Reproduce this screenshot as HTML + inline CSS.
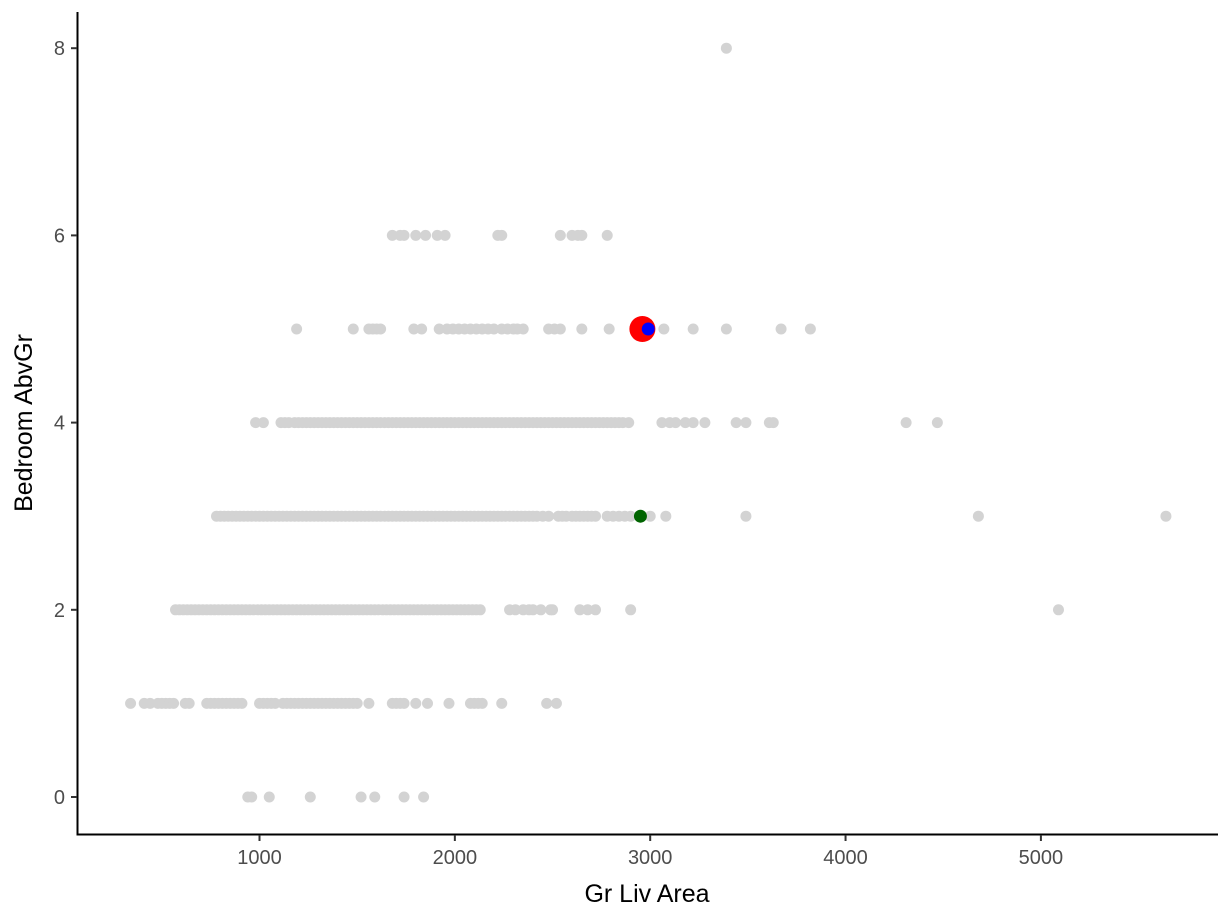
<!DOCTYPE html>
<html><head><meta charset="utf-8"><style>
body{margin:0;background:#fff}
svg{display:block}
text{font-family:"Liberation Sans",sans-serif}
</style></head><body>
<svg id="chart" width="1228" height="921"></svg>
<script>
const xTicks=[1000,2000,3000,4000,5000];
const yTicks=[0,2,4,6,8];
const row0=[940,960,1050,1260,1520,1590,1740,1840];
const row1=[340,410,440,480,500,520,540,560,620,640,730,750,770,790,810,830,850,870,890,910,1000,1020,1040,1060,1080,1120,1140,1160,1180,1200,1220,1240,1260,1280,1300,1320,1340,1360,1380,1400,1420,1440,1460,1480,1500,1560,1680,1700,1720,1740,1800,1860,1970,2080,2100,2120,2140,2240,2470,2520];
const row2=[570,590,610,630,650,670,690,710,730,750,770,790,810,830,850,870,890,910,930,950,970,990,1010,1030,1050,1070,1090,1110,1130,1150,1170,1190,1210,1230,1250,1270,1290,1310,1330,1350,1370,1390,1410,1430,1450,1470,1490,1510,1530,1550,1570,1590,1610,1630,1650,1670,1690,1710,1730,1750,1770,1790,1810,1830,1850,1870,1890,1910,1930,1950,1970,1990,2010,2030,2050,2070,2090,2110,2130,2280,2310,2350,2380,2400,2440,2490,2500,2640,2680,2720,2900,5090];
const row3=[780,800,820,840,860,880,900,920,940,960,980,1000,1020,1040,1060,1080,1100,1120,1140,1160,1180,1200,1220,1240,1260,1280,1300,1320,1340,1360,1380,1400,1420,1440,1460,1480,1500,1520,1540,1560,1580,1600,1620,1640,1660,1680,1700,1720,1740,1760,1780,1800,1820,1840,1860,1880,1900,1920,1940,1960,1980,2000,2020,2040,2060,2080,2100,2120,2140,2160,2180,2200,2220,2240,2260,2280,2300,2320,2340,2360,2380,2400,2420,2450,2480,2530,2550,2570,2600,2620,2640,2660,2680,2700,2720,2780,2810,2840,2870,2900,3000,3080,3490,4680,5640];
const row4=[980,1020,1110,1130,1150,1180,1200,1220,1240,1260,1280,1300,1320,1340,1360,1380,1400,1420,1440,1460,1480,1500,1520,1540,1560,1580,1600,1620,1640,1660,1680,1700,1720,1740,1760,1780,1800,1820,1840,1860,1880,1900,1920,1940,1960,1980,2000,2020,2040,2060,2080,2100,2120,2140,2160,2180,2200,2220,2240,2260,2280,2300,2320,2340,2360,2380,2400,2420,2440,2460,2480,2500,2520,2540,2560,2580,2600,2620,2640,2660,2680,2700,2720,2740,2760,2780,2800,2820,2840,2860,2890,3060,3100,3130,3180,3220,3280,3440,3490,3610,3630,4310,4470];
const row5=[1190,1480,1560,1580,1600,1620,1790,1830,1920,1960,1990,2020,2050,2080,2110,2140,2170,2200,2240,2270,2300,2320,2350,2480,2510,2540,2650,2790,3070,3220,3390,3670,3820];
const row6=[1680,1720,1740,1800,1850,1910,1950,2220,2240,2540,2600,2630,2650,2780];
const row8=[3390];
const rowY=[0,1,2,3,4,5,6,8];
const rows=[row0,row1,row2,row3,row4,row5,row6,row8];
const highlightRed=[2960,5], highlightBlue=[2990,5], highlightGreen=[2950,3];

const X=v=>259.5+(v-1000)*0.19535;
const Y=v=>797-v*93.6;
const NS='http://www.w3.org/2000/svg';
const svg=document.getElementById('chart');
function mk(t,a){const e=document.createElementNS(NS,t);for(const k in a)e.setAttribute(k,a[k]);svg.appendChild(e);return e;}

rows.forEach((r,i)=>r.forEach(v=>{
  const c=mk('circle',{cx:X(v),cy:Y(rowY[i]),r:5.5,fill:'#d3d3d3'});
  
  
}));
let c=mk('circle',{cx:X(highlightRed[0]),cy:Y(highlightRed[1]),r:13,fill:'#ff0000'});


c=mk('circle',{cx:X(highlightBlue[0]),cy:Y(highlightBlue[1]),r:6.5,fill:'#0000ff'});


c=mk('circle',{cx:X(highlightGreen[0]),cy:Y(highlightGreen[1]),r:6.5,fill:'#006400'});



let a=mk('line',{x1:77.5,y1:12,x2:77.5,y2:835,stroke:'#000','stroke-width':2});


a=mk('line',{x1:76.5,y1:834.5,x2:1218,y2:834.5,stroke:'#000','stroke-width':2});



xTicks.forEach(v=>{
  const l=mk('line',{x1:X(v),y1:835,x2:X(v),y2:841,stroke:'#333','stroke-width':2});
  
  
  const t=mk('text',{x:X(v),y:864,'text-anchor':'middle','font-size':20,fill:'#4d4d4d'});
  t.textContent=v;
  
  
});
yTicks.forEach(v=>{
  const l=mk('line',{x1:71,y1:Y(v),x2:77,y2:Y(v),stroke:'#333','stroke-width':2});
  
  
  const t=mk('text',{x:65,y:Y(v)+7,'text-anchor':'end','font-size':20,fill:'#4d4d4d'});
  t.textContent=v;
  
  
});
let t=mk('text',{x:647,y:902,'text-anchor':'middle','font-size':25,fill:'#000'});
t.textContent='Gr Liv Area';


let t2=mk('text',{x:0,y:0,'text-anchor':'middle','font-size':25,fill:'#000',transform:'translate(32,423) rotate(-90)'});
t2.textContent='Bedroom AbvGr';


</script>
</body></html>
